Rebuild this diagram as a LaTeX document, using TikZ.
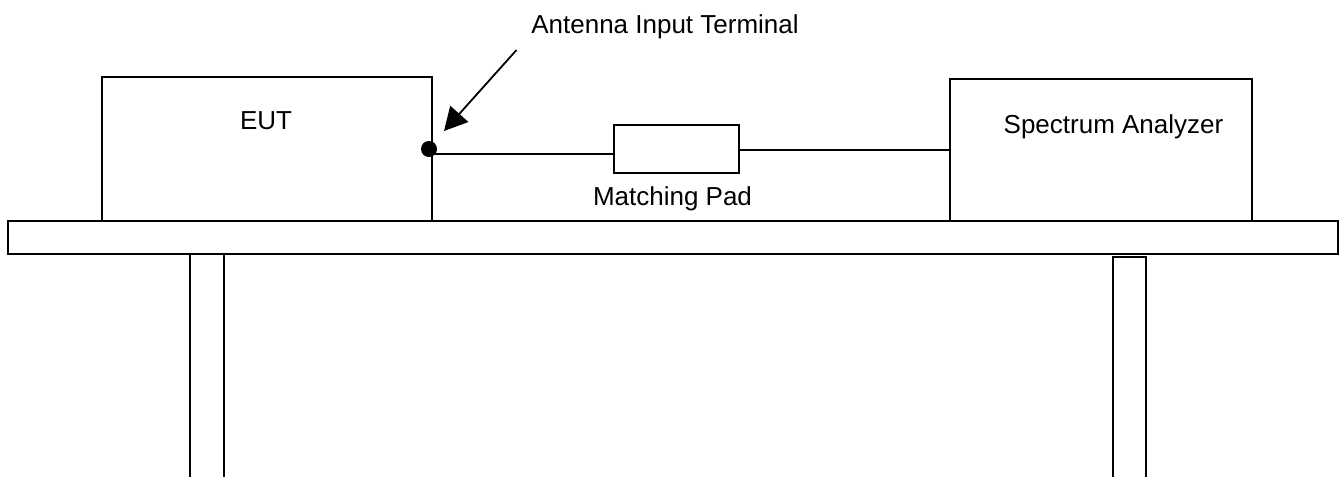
\documentclass[tikz,border=0pt]{standalone}
\usepackage{fontspec}
\setmainfont{Liberation Sans}
\usetikzlibrary{arrows.meta}
\tikzset{
  box/.style={draw=black,line width=1.8pt,fill=white,minimum width=0,minimum height=0,inner sep=0pt,outer sep=0pt,anchor=north west},
  lbl/.style={font=\fontsize{26}{28}\selectfont,inner sep=0pt,outer sep=0pt,text=black,anchor=base},
  wire/.style={draw=black,line width=1.8pt}
}
\begin{document}
\begin{tikzpicture}[x=1pt,y=-1pt]
\useasboundingbox (0,0) rectangle (1344,477);
\node[box,minimum width=330pt,minimum height=144pt] (eut) at (102,77) {};
\node[box,minimum width=302pt,minimum height=142pt] (sa) at (950,79) {};
\node[box,minimum width=125pt,minimum height=48pt] (pad) at (614,125) {};
\node[box,minimum width=1330pt,minimum height=33pt] (table) at (8,221) {};
\coordinate (l1a) at (190,254); \coordinate (l1b) at (190,477);
\coordinate (l2a) at (224,254); \coordinate (l2b) at (224,477);
\coordinate (r1a) at (1113,257); \coordinate (r1b) at (1113,477);
\coordinate (r2a) at (1146,257); \coordinate (r2b) at (1146,477);
\draw[wire] (l1b) -- (l1a) -- (l2a) -- (l2b);
\draw[wire] (r1b) -- (r1a) -- (r2a) -- (r2b);
\node[circle,fill=black,minimum size=16pt,inner sep=0pt,outer sep=0pt] (term) at (429,149) {};
\coordinate (wl) at (432,154);
\coordinate (wr) at (614,154);
\draw[wire] (wl) -- (wr);
\coordinate (vl) at (739,150);
\coordinate (vr) at (950,150);
\draw[wire] (vl) -- (vr);
\node[lbl] (t1) at (266,129) {EUT};
\node[lbl] (t2) at (1113.5,133) {Spectrum Analyzer};
\node[lbl] (t3) at (672.5,205) {Matching Pad};
\node[lbl] (t4) at (665,33) {Antenna Input Terminal};
\coordinate (as) at (516.5,50);
\coordinate (ae) at (444,131);
\draw[wire,-{Triangle[length=23pt,width=24pt]}] (as) -- (ae);
\end{tikzpicture}
\end{document}
